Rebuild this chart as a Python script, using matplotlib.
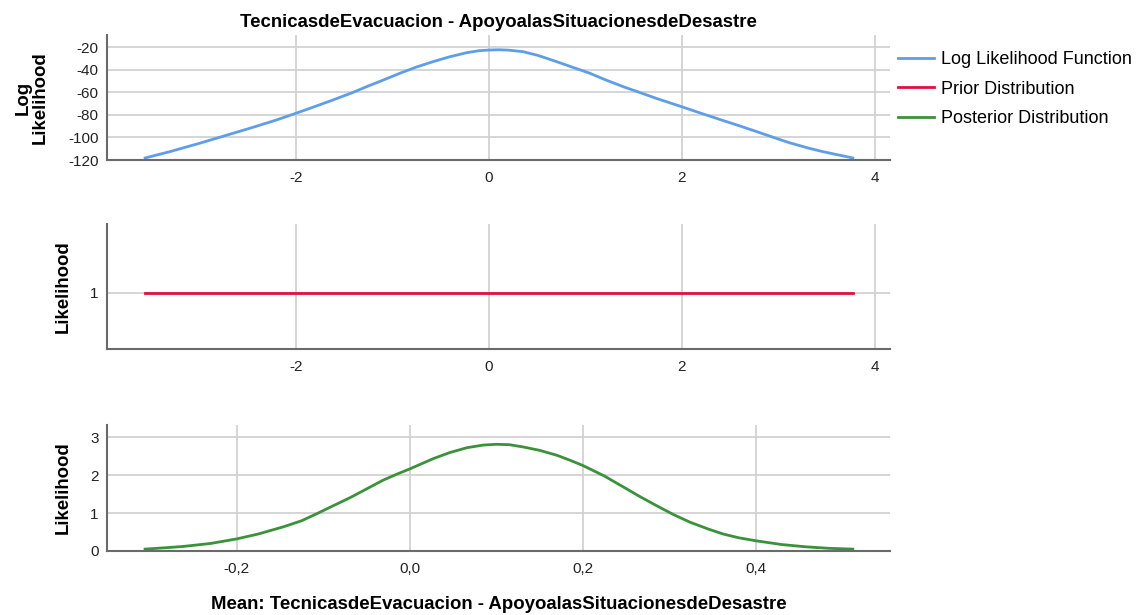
import matplotlib
matplotlib.use('Agg')
import matplotlib.pyplot as plt

plt.rcParams['font.family'] = ['Liberation Sans', 'DejaVu Sans']
plt.rcParams['axes.unicode_minus'] = False

title = 'TecnicasdeEvacuacion - ApoyoalasSituacionesdeDesastre'
xlabel = 'Mean: TecnicasdeEvacuacion - ApoyoalasSituacionesdeDesastre'
legend_labels = ['Log Likelihood Function', 'Prior Distribution', 'Posterior Distribution']

# log likelihood
ll_x = [-3.56, -3.3, -2.99, -2.7, -2.47, -2.2, -2.0, -1.8, -1.61, -1.4, -1.265, -1.1,
        -0.92, -0.75, -0.576, -0.4, -0.23, -0.1, 0.01, 0.1, 0.2, 0.355, 0.5, 0.6,
        0.70, 0.87, 1.045, 1.2, 1.39, 1.56, 1.734, 2.0, 2.2, 2.42, 2.6, 2.77, 2.95,
        3.11, 3.3, 3.46, 3.62, 3.77]
ll_y = [-118.2, -112.5, -105.0, -97.6, -91.7, -84.5, -78.6, -72.5, -66.6, -59.8, -54.9, -49.3,
        -43.0, -37.5, -32.7, -28.3, -24.8, -23.0, -22.4, -22.2, -22.5, -23.9, -27.0, -29.8,
        -32.7, -37.8, -43.0, -48.6, -54.9, -60.0, -65.3, -72.8, -78.6, -84.8, -89.8, -94.7, -100.0,
        -104.6, -109.2, -112.6, -115.5, -118.2]

# prior
prior_x = [-3.56, 3.77]
prior_y = [1, 1]

# posterior
post_x = [-0.306, -0.28, -0.262, -0.23, -0.2, -0.175, -0.146, -0.125, -0.108, -0.09,
          -0.069, -0.05, -0.031, -0.015, 0.0, 0.027, 0.046, 0.066, 0.085, 0.1, 0.115,
          0.131, 0.15, 0.17, 0.185, 0.2, 0.225, 0.247, 0.265, 0.285, 0.305, 0.324,
          0.345, 0.362, 0.38, 0.4, 0.43, 0.458, 0.485, 0.512]
post_y = [0.05, 0.09, 0.12, 0.20, 0.32, 0.45, 0.64, 0.80, 0.98, 1.18,
          1.41, 1.64, 1.87, 2.03, 2.17, 2.44, 2.60, 2.73, 2.80, 2.82, 2.81,
          2.75, 2.66, 2.53, 2.40, 2.26, 1.98, 1.69, 1.45, 1.20, 0.96, 0.76,
          0.58, 0.45, 0.35, 0.27, 0.17, 0.11, 0.07, 0.05]

top_xticks = [-2, 0, 2, 4]
top_yticks = [-120, -100, -80, -60, -40, -20]
post_xticks = [-0.2, 0.0, 0.2, 0.4]
post_xticklabels = ['-0,2', '0,0', '0,2', '0,4']
post_yticks = [0, 1, 2, 3]

BLUE = '#5e9ee9'
RED = '#e0103c'
GREEN = '#3a923a'
GRID = '#d2d2d2'
SPINE = '#6a6a6a'

W, H = 1142, 615
fig = plt.figure(figsize=(W / 100, H / 100), dpi=100)


def make_ax(top, bottom):
    ax = fig.add_axes([107 / W, 1 - bottom / H, 783 / W, (bottom - top) / H])
    for s in ['top', 'right']:
        ax.spines[s].set_visible(False)
    for s in ['left', 'bottom']:
        ax.spines[s].set_color(SPINE)
        ax.spines[s].set_linewidth(1.5)
    ax.grid(True, color=GRID, linewidth=1.3)
    ax.set_axisbelow(True)
    ax.tick_params(length=0, labelsize=11, colors='#222222')
    ax.tick_params(axis='x', pad=8)
    ax.tick_params(axis='y', pad=6)
    return ax


ax1 = make_ax(35, 160)
l1, = ax1.plot(ll_x, ll_y, color=BLUE, lw=2, solid_joinstyle='round')
ax1.set_xlim(-3.955, 4.155)
ax1.set_ylim(-120, -9.1)
ax1.set_xticks(top_xticks)
ax1.set_yticks(top_yticks)
ax1.set_title(title, fontsize=13.4, fontweight='bold', pad=6)
ax1.set_ylabel('Log\nLikelihood', fontsize=13.4, fontweight='bold', linespacing=1.0)
ax1.yaxis.set_label_coords(-0.075, 0.5)

ax2 = make_ax(224, 349)
l2, = ax2.plot(prior_x, prior_y, color=RED, lw=2)
ax2.set_xlim(-3.955, 4.155)
ax2.set_ylim(0.55, 1.55)
ax2.set_xticks(top_xticks)
ax2.set_yticks([1])
ax2.set_ylabel('Likelihood', fontsize=13.4, fontweight='bold')
ax2.yaxis.set_label_coords(-0.045, 0.5)

ax3 = make_ax(425, 551)
l3, = ax3.plot(post_x, post_y, color=GREEN, lw=2, solid_joinstyle='round')
ax3.set_xlim(-0.350, 0.555)
ax3.set_ylim(0, 3.33)
ax3.set_xticks(post_xticks)
ax3.set_xticklabels(post_xticklabels)
ax3.set_yticks(post_yticks)
ax3.set_ylabel('Likelihood', fontsize=13.4, fontweight='bold')
ax3.yaxis.set_label_coords(-0.045, 0.5)
ax3.set_xlabel(xlabel, fontsize=13.4, fontweight='bold', labelpad=14)

fig.legend([l1, l2, l3], legend_labels, loc='upper left',
           bbox_to_anchor=(898 / W, 1 - 51 / H), frameon=False,
           fontsize=13, handlelength=2.0, handletextpad=0.4,
           labelspacing=0.7, borderpad=0, borderaxespad=0)

fig.savefig('out.png', dpi=100)
